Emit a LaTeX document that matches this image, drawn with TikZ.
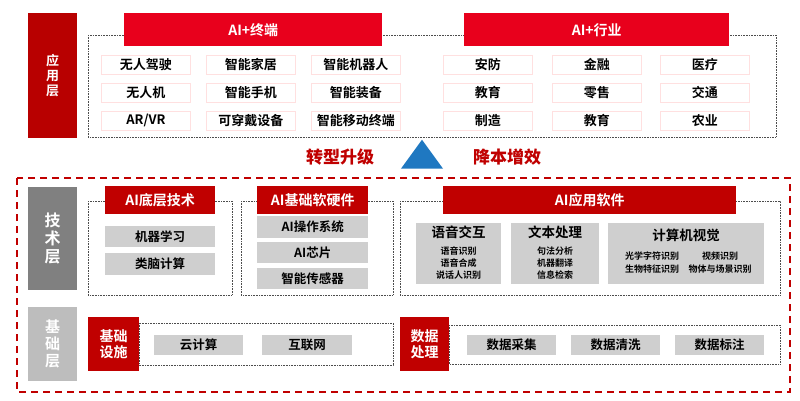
\documentclass[tikz,border=0pt]{standalone}
\usepackage{fontspec}
\setmainfont{Noto Sans CJK SC}[BoldFont={* Bold}]
\usetikzlibrary{shapes.geometric}
\definecolor{dred}{HTML}{B80000}
\definecolor{bred}{HTML}{E8001C}
\definecolor{mred}{HTML}{C00000}
\definecolor{gbox}{HTML}{CFCFCF}
\definecolor{dgray}{HTML}{808080}
\definecolor{lgray}{HTML}{BDBDBD}
\definecolor{tblue}{HTML}{1F78C1}
\newcommand{\fs}[1]{\fontsize{#1}{#1}\selectfont}
\tikzset{
  base/.style={inner sep=0pt,anchor=north west,font=\bfseries,align=center},
  redbar/.style={base,fill=bred,text=white,font=\bfseries\fs{14}},
  redbox/.style={base,fill=mred,text=white,font=\bfseries\fs{14}},
  item/.style={base,draw=red!12,fill=white,line width=0.8pt,font=\bfseries\fs{13}},
  gitem/.style={base,fill=gbox,font=\bfseries\fs{12.5}},
  sub/.style={font=\bfseries\fs{9},align=center},
  subh/.style={font=\bfseries\fs{13.5}},
  dotbox/.style={draw=black!70,densely dotted,line width=0.6pt},
}
\newcommand{\rect}[7]{\node[#6,minimum width={#4-#2},minimum height={#5-#3}] (#1) at (#2,#3) {#7};}
\begin{document}
\begin{tikzpicture}[x=1pt,y=-1pt]
\useasboundingbox (0,0) rectangle (800,401);
\fill[white] (0,0) rectangle (800,401);
% application layer
\draw[dotbox] (88,35) rectangle (776,137);
\rect{app}{28}{13}{77}{138}{base,fill=dred,text=white,font=\bfseries\fs{13}}{应\\[2pt]用\\[2pt]层}
\rect{term}{124}{13}{382}{46}{redbar}{AI+终端}
\rect{ind}{464}{13}{729}{46}{redbar}{AI+行业}
\foreach \x/\a/\b/\c in {101/无人驾驶/无人机/AR\slash VR,206/智能家居/智能手机/可穿戴设备,311/智能机器人/智能装备/智能移动终端,443/安防/教育/制造,552/金融/零售/教育,660/医疗/交通/农业}{
  \rect{i\x a}{\x}{55}{\x+89}{74}{item}{\a}
  \rect{i\x b}{\x}{83}{\x+89}{102}{item}{\b}
  \rect{i\x c}{\x}{111}{\x+89}{130}{item}{\c}
}
\node[isosceles triangle,isosceles triangle apex angle=72,shape border rotate=90,fill=tblue,minimum height=29pt,inner sep=0pt] (tri) at (422,158) {};
\node[text=mred,font=\bfseries\itshape\fs{17}] (t1) at (340,157) {转型升级};
\node[text=mred,font=\bfseries\itshape\fs{17}] (t2) at (507,157) {降本增效};
% lower area
\draw[mred,dash pattern=on 7pt off 5pt,line width=1.5pt] (17,178) rectangle (790,392);
\rect{tech}{28}{187}{77}{290}{base,fill=dgray,text=white,font=\bfseries\fs{16}}{技\\[2pt]术\\[2pt]层}
\rect{found}{28}{307}{77}{381}{base,fill=lgray,text=white,font=\bfseries\fs{15}}{基\\[2pt]础\\[2pt]层}
\draw[dotbox] (88,201) rectangle (232,295);
\draw[dotbox] (241,201) rectangle (393,295);
\draw[dotbox] (400,201) rectangle (780,295);
\rect{low}{105}{186}{215}{214}{redbox}{AI底层技术}
\rect{ml}{105}{226}{215}{247}{gitem}{机器学习}
\rect{bc}{105}{253}{215}{275}{gitem}{类脑计算}
\rect{sh}{257}{186}{368}{214}{redbox}{AI基础软硬件}
\rect{os}{257}{216}{368}{238}{gitem}{AI操作系统}
\rect{chip}{257}{242}{368}{263}{gitem}{AI芯片}
\rect{sens}{257}{268}{368}{289}{gitem}{智能传感器}
\rect{apps}{443}{186}{736}{214}{redbox}{AI应用软件}
\rect{sp}{416}{223}{501}{284}{gitem}{}
\node[subh] (spt) at (458.5,232) {语音交互};
\node[sub] (sps) at (458.5,263) {语音识别\\[3pt]语音合成\\[3pt]说话人识别};
\rect{tx}{511}{223}{599}{284}{gitem}{}
\node[subh] (txt) at (555,232) {文本处理};
\node[sub] (txs) at (555,263) {句法分析\\[3pt]机器翻译\\[3pt]信息检索};
\rect{cv}{608}{223}{764}{284}{gitem}{}
\node[subh] (cvt) at (686,235) {计算机视觉};
\node[sub] (cv1) at (652,263) {光学字符识别\\[4pt]生物特征识别};
\node[sub] (cv2) at (720,263) {视频识别\\[4pt]物体与场景识别};
\draw[dotbox] (139,323) rectangle (393,365);
\draw[dotbox] (449,325) rectangle (780,364);
\rect{infra}{88}{317}{139}{371}{redbox}{基础\\[2pt]设施}
\rect{cloud}{154}{335}{243}{355}{gitem}{云计算}
\rect{net}{262}{335}{352}{355}{gitem}{互联网}
\rect{data}{400}{317}{449}{371}{redbox}{数据\\[2pt]处理}
\rect{d1}{467}{335}{556}{355}{gitem}{数据采集}
\rect{d2}{571}{335}{660}{355}{gitem}{数据清洗}
\rect{d3}{675}{335}{764}{355}{gitem}{数据标注}
\end{tikzpicture}
\end{document}
